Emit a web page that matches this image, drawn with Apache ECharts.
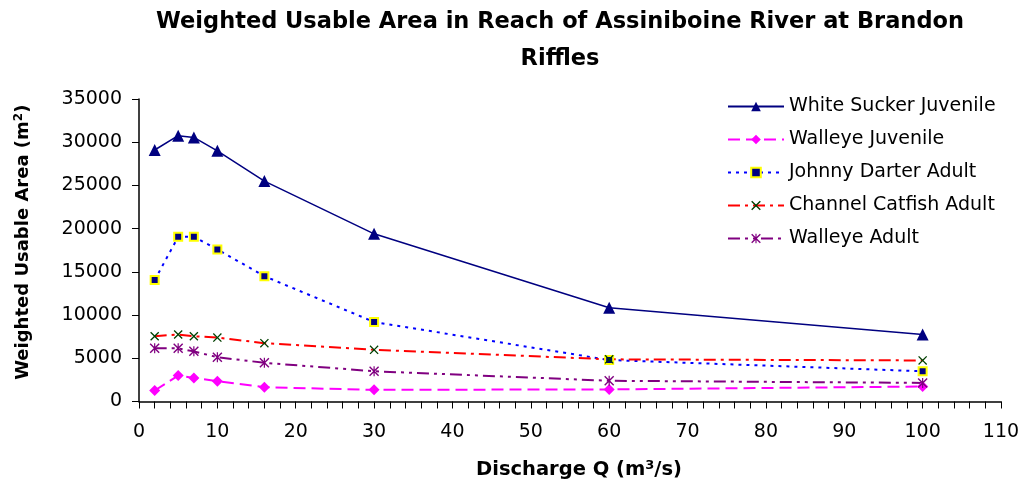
<!DOCTYPE html>
<html>
<head>
<meta charset="utf-8">
<script src="https://cdn.jsdelivr.net/npm/echarts@6/dist/echarts.min.js"></script>
<style>
    html, body { margin: 0; padding: 0; background: #fff; }
    #chart { width: 1025px; height: 485px; }
</style>
</head>
<body>
<div id="chart"></div>
<script>
    // discharge values (m3/s)
    var discharge = [2, 5, 7, 10, 16, 30, 60, 100];
    var whiteSuckerJuv = [29100, 30750, 30550, 29000, 25500, 19400, 10850, 7750];
    var walleyeJuv = [1270, 3000, 2730, 2350, 1650, 1350, 1400, 1730];
    var johnnyDarterAdult = [14050, 19050, 19050, 17600, 14500, 9200, 4800, 3500];
    var channelCatfishAdult = [7550, 7750, 7550, 7400, 6750, 5980, 4880, 4750];
    var walleyeAdult = [6150, 6150, 5800, 5120, 4480, 3500, 2400, 2150];

    function pairs(ys) {
        return discharge.map(function (x, i) { return [x, ys[i]]; });
    }

    var xMark = 'path://M0,1L1,0L5,4L9,0L10,1L6,5L10,9L9,10L5,6L1,10L0,9L4,5Z';
    var starMark = 'path://M0,1L1,0L5,4L9,0L10,1L6,5L10,9L9,10L5,6L1,10L0,9L4,5ZM4.4,0L5.6,0L5.6,10L4.4,10Z';

    var font = 'DejaVu Sans, Arial, sans-serif';

    var option = {
        animation: false,
        title: {
            text: 'Weighted Usable Area in Reach of Assiniboine River at Brandon\nRiffles',
            left: 555,
            textAlign: 'center',
            top: -1,
            textStyle: { fontFamily: font, fontSize: 22.5, fontWeight: 'bold', color: '#000', lineHeight: 37 }
        },
        legend: {
            orient: 'vertical',
            left: 722,
            top: 92,
            itemWidth: 56,
            itemHeight: 12,
            itemGap: 14,
            textStyle: { fontFamily: font, fontSize: 19, color: '#000' },
            data: ['White Sucker Juvenile', 'Walleye Juvenile', 'Johnny Darter Adult', 'Channel Catfish Adult', 'Walleye Adult']
        },
        grid: { left: 139, right: 24, top: 99, bottom: 83, containLabel: false },
        xAxis: {
            type: 'value',
            min: 0, max: 110, interval: 10,
            name: '{a|Discharge Q (m}{s|3}{a|/s)}',
            nameLocation: 'middle',
            nameGap: 58,
            nameTextStyle: {
                padding: [0, 0, 0, 18],
                rich: {
                    a: { fontFamily: font, fontSize: 19.5, fontWeight: 'bold', color: '#000' },
                    s: { fontFamily: font, fontSize: 13, fontWeight: 'bold', color: '#000', verticalAlign: 'top', padding: [0, 0, 8, 0] }
                }
            },
            axisLine: { lineStyle: { color: '#000', width: 1.5 } },
            axisTick: { length: 7, lineStyle: { color: '#000' } },
            minorTick: { show: true, splitNumber: 5, length: 7, lineStyle: { color: '#000' } },
            axisLabel: { fontFamily: font, fontSize: 19, color: '#000', margin: 21 },
            splitLine: { show: false }
        },
        yAxis: {
            type: 'value',
            min: 0, max: 35000, interval: 5000,
            name: '{a|Weighted Usable Area (m}{s|2}{a|)}',
            nameLocation: 'middle',
            nameGap: 106,
            nameTextStyle: {
                padding: [0, 0, 0, 16],
                rich: {
                    a: { fontFamily: font, fontSize: 18, fontWeight: 'bold', color: '#000' },
                    s: { fontFamily: font, fontSize: 12, fontWeight: 'bold', color: '#000', verticalAlign: 'top', padding: [0, 0, 8, 0] }
                }
            },
            axisLine: { show: true, lineStyle: { color: '#000', width: 1.5 } },
            axisTick: { show: true, length: 7, lineStyle: { color: '#000' } },
            axisLabel: { fontFamily: font, fontSize: 19, color: '#000', margin: 17, formatter: function (v) { return String(v); } },
            splitLine: { show: false }
        },
        series: [
            {
                name: 'White Sucker Juvenile', type: 'line', data: pairs(whiteSuckerJuv),
                symbol: 'triangle', symbolSize: 12,
                lineStyle: { color: '#000080', width: 1.5 },
                itemStyle: { color: '#000080' }
            },
            {
                name: 'Walleye Juvenile', type: 'line', data: pairs(walleyeJuv),
                symbol: 'diamond', symbolSize: 11,
                lineStyle: { color: '#ff00ff', width: 2, type: [12, 6] },
                itemStyle: { color: '#ff00ff' }
            },
            {
                name: 'Johnny Darter Adult', type: 'line', data: pairs(johnnyDarterAdult),
                symbol: 'rect', symbolSize: 8,
                lineStyle: { color: '#0000ff', width: 2, type: [3, 5] },
                itemStyle: { color: '#000080', borderColor: '#ffff00', borderWidth: 2 }
            },
            {
                name: 'Channel Catfish Adult', type: 'line', data: pairs(channelCatfishAdult),
                symbol: xMark, symbolSize: 9,
                lineStyle: { color: '#ff0000', width: 2, type: [12, 5, 3, 5] },
                itemStyle: { color: '#004000' }
            },
            {
                name: 'Walleye Adult', type: 'line', data: pairs(walleyeAdult),
                symbol: starMark, symbolSize: 10,
                lineStyle: { color: '#800080', width: 2, type: [12, 5, 3, 5, 3, 5] },
                itemStyle: { color: '#800080' }
            }
        ]
    };

    var myecharts = echarts.init(document.getElementById('chart'));
    myecharts.setOption(option);
</script>
</body>
</html>
